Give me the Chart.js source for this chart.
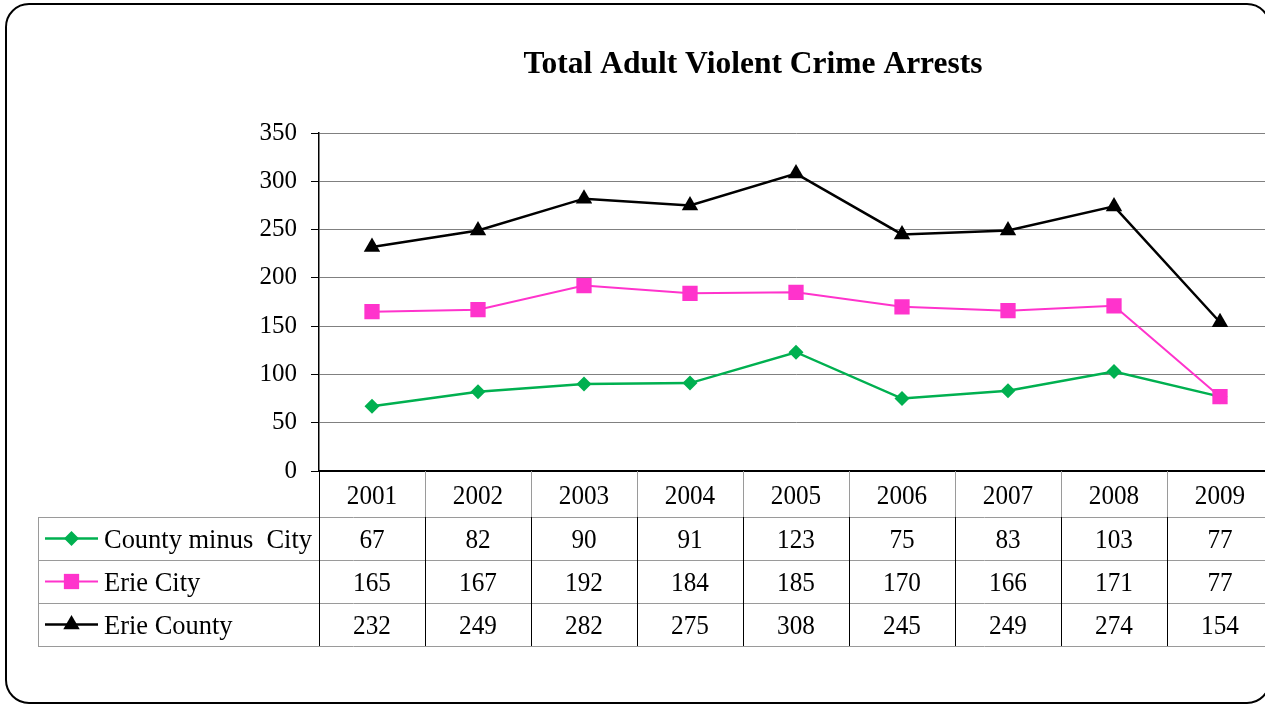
<!DOCTYPE html>
<html>
<head>
<meta charset="utf-8">
<script src="https://cdn.jsdelivr.net/npm/chart.js@4.4.0/dist/chart.umd.min.js"></script>
<style>
  html, body { margin: 0; padding: 0; background: #fff; overflow: hidden; width: 1265px; height: 704px; }
  #wrap { position: absolute; left: 0; top: 0; width: 1300px; height: 704px; }
  #frame { position: absolute; left: 5px; top: 3px; width: 1266px; height: 701px; box-sizing: border-box;
           border: 2.5px solid #000; border-radius: 24px; pointer-events: none; }
</style>
</head>
<body>
<div id="wrap"><canvas id="myChart" width="1300" height="704"></canvas></div>
<div id="frame"></div>
<script>
  const chartTitle = 'Total Adult Violent Crime Arrests';
  const years = ['2001', '2002', '2003', '2004', '2005', '2006', '2007', '2008', '2009'];
  const seriesNames = ['County minus  City', 'Erie City', 'Erie County'];
  const countyMinusCity = [67, 82, 90, 91, 123, 75, 83, 103, 77];
  const erieCity = [165, 167, 192, 184, 185, 170, 166, 171, 77];
  const erieCounty = [232, 249, 282, 275, 308, 245, 249, 274, 154];
  const yMin = 0, yMax = 350, yStep = 50;

  const serif = '"Liberation Serif", "Times New Roman", serif';

  // draws text squeezed horizontally by sx
  function squeezeText(c, text, x, y, sx, align) {
    c.save();
    c.translate(x, y);
    c.scale(sx, 1);
    c.textAlign = align;
    c.fillText(text, 0, 0);
    c.restore();
  }

  const tablePlugin = {
    id: 'dataTable',
    afterDraw(chart) {
      const c = chart.ctx;
      const xs = chart.scales.x;
      const area = chart.chartArea;
      const tableLeft = 38;
      const headTop = area.bottom, headH = 46, rowH = 43;
      const rowsTop = headTop + headH;
      const bottom = rowsTop + rowH * 3;
      const right = chart.width;

      // title
      c.save();
      c.fillStyle = '#000';
      c.font = 'bold 31px ' + serif;
      c.textBaseline = 'alphabetic';
      const tw = c.measureText(chartTitle).width;
      squeezeText(c, chartTitle, 753, 73, 459 / tw, 'center');
      c.restore();

      // column edges
      const edges = [area.left];
      for (let i = 1; i < years.length; i++) {
        edges.push((xs.getPixelForValue(i - 1) + xs.getPixelForValue(i)) / 2);
      }

      c.save();
      c.lineWidth = 1;
      c.strokeStyle = '#9a9a9a';
      c.beginPath();
      for (let r = 0; r <= 3; r++) {
        const y = Math.round(rowsTop + r * rowH) + 0.5;
        c.moveTo(tableLeft, y);
        c.lineTo(right, y);
      }
      c.moveTo(tableLeft + 0.5, rowsTop);
      c.lineTo(tableLeft + 0.5, bottom);
      for (let i = 1; i < edges.length; i++) {
        c.moveTo(Math.round(edges[i]) + 0.5, headTop);
        c.lineTo(Math.round(edges[i]) + 0.5, rowsTop);
      }
      c.stroke();

      c.strokeStyle = '#000';
      c.beginPath();
      for (let i = 1; i < edges.length; i++) {
        c.moveTo(Math.round(edges[i]) + 0.5, rowsTop);
        c.lineTo(Math.round(edges[i]) + 0.5, bottom);
      }
      c.moveTo(Math.round(area.left) + 0.5, headTop);
      c.lineTo(Math.round(area.left) + 0.5, bottom);
      c.stroke();
      c.restore();

      // year headers and values
      c.save();
      c.fillStyle = '#000';
      c.font = '28px ' + serif;
      c.textBaseline = 'alphabetic';
      const sx = 0.9;
      years.forEach((yr, i) => {
        squeezeText(c, yr, xs.getPixelForValue(i), headTop + headH / 2 + 10, sx, 'center');
      });
      const ds = chart.data.datasets;
      ds.forEach((d, r) => {
        const yBase = rowsTop + r * rowH + rowH / 2 + 9.5;
        d.data.forEach((v, i) => {
          squeezeText(c, String(v), xs.getPixelForValue(i), yBase, sx, 'center');
        });
      });

      // legend cells
      const lw = c.measureText(seriesNames[0]).width;
      const lsx = 208 / lw;
      ds.forEach((d, r) => {
        const yMid = rowsTop + r * rowH + rowH / 2;
        c.save();
        c.strokeStyle = d.borderColor;
        c.lineWidth = d.borderWidth;
        c.beginPath();
        c.moveTo(45, yMid);
        c.lineTo(98, yMid);
        c.stroke();
        c.fillStyle = d.borderColor;
        Chart.helpers.drawPoint(c, { pointStyle: d.pointStyle, radius: d.pointRadius, borderWidth: 0, rotation: 0 }, 71.5, yMid);
        c.restore();
        squeezeText(c, seriesNames[r], 104, yMid + 9.5, lsx, 'left');
      });
      c.restore();
    }
  };

  const data = {
    labels: years,
    datasets: [{
      label: seriesNames[0],
      data: countyMinusCity,
      borderColor: '#00B050',
      backgroundColor: '#00B050',
      borderWidth: 2.5,
      pointStyle: 'rectRot',
      pointRadius: 7.5,
      pointHoverRadius: 7.5,
      pointBorderWidth: 0,
      order: 2
    }, {
      label: seriesNames[1],
      data: erieCity,
      borderColor: '#FF33CC',
      backgroundColor: '#FF33CC',
      borderWidth: 2,
      pointStyle: 'rect',
      pointRadius: 10.8,
      pointHoverRadius: 10.8,
      pointBorderWidth: 0,
      order: 1
    }, {
      label: seriesNames[2],
      data: erieCounty,
      borderColor: '#000000',
      backgroundColor: '#000000',
      borderWidth: 2.5,
      pointStyle: 'triangle',
      pointRadius: 9.5,
      pointHoverRadius: 9.5,
      pointBorderWidth: 0,
      order: 0
    }]
  };

  const config = {
    type: 'line',
    data: data,
    options: {
      responsive: false,
      animation: false,
      devicePixelRatio: 1,
      layout: { padding: { top: 133, right: 27, left: 0, bottom: 0 } },
      plugins: {
        legend: { display: false },
        title: { display: false },
        tooltip: { enabled: false }
      },
      scales: {
        x: {
          offset: true,
          ticks: { display: false },
          grid: { display: false, drawTicks: false },
          border: { color: '#000', width: 2 },
          afterFit(s) { s.height = 233; }
        },
        y: {
          min: yMin,
          max: yMax,
          ticks: { stepSize: yStep, color: '#000', font: { family: serif, size: 25 }, padding: 14 },
          grid: { color: '#808080', tickColor: '#000', tickLength: 8 },
          border: { color: '#000', width: 1.5 },
          afterFit(s) { s.width = 319; }
        }
      }
    },
    plugins: [tablePlugin]
  };

  const myChart = new Chart(
    document.getElementById('myChart'),
    config
  );
</script>
</body>
</html>
